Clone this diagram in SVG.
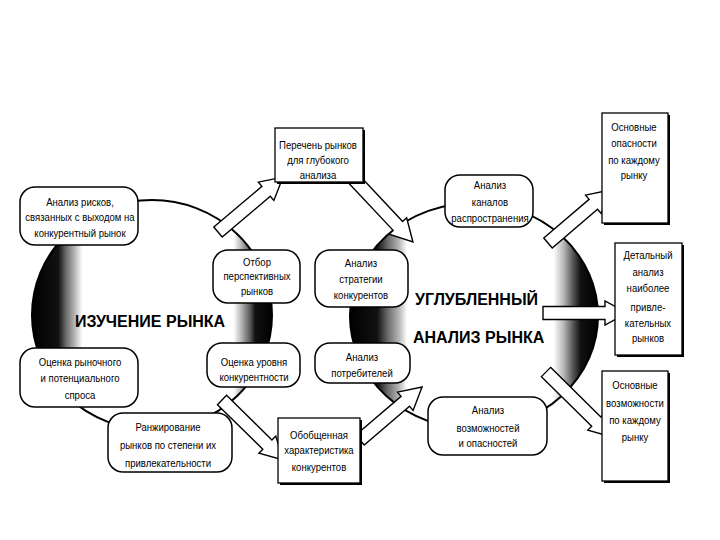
<svg xmlns="http://www.w3.org/2000/svg" width="720" height="540" viewBox="0 0 720 540">
<style>
.t{font-family:"Liberation Sans",Arial,sans-serif;font-size:11px;fill:#000;text-anchor:middle}
.big{font-family:"Liberation Sans",Arial,sans-serif;font-size:16px;font-weight:bold;fill:#000}
.rb{fill:#fff;stroke:#000;stroke-width:1.5}
.rc{fill:#fff;stroke:#000;stroke-width:1.3}
.sh{fill:#000}
.ar{fill:#fff;stroke:#000;stroke-width:1.4;stroke-linejoin:miter}
.sp{stroke:#000;stroke-width:2}
</style>
<defs>
<linearGradient id="gL" x1="0" y1="0" x2="1" y2="0">
<stop offset="0" stop-color="#000"/><stop offset="0.11" stop-color="#111"/><stop offset="0.14" stop-color="#666"/><stop offset="0.18" stop-color="#bbb"/><stop offset="0.21" stop-color="#fff"/><stop offset="0.84" stop-color="#fff"/><stop offset="0.87" stop-color="#bbb"/><stop offset="0.91" stop-color="#555"/><stop offset="0.93" stop-color="#111"/><stop offset="1" stop-color="#000"/>
</linearGradient>
<linearGradient id="gR" x1="0" y1="0" x2="1" y2="0">
<stop offset="0" stop-color="#000"/><stop offset="0.11" stop-color="#111"/><stop offset="0.15" stop-color="#666"/><stop offset="0.20" stop-color="#bbb"/><stop offset="0.23" stop-color="#fff"/><stop offset="0.82" stop-color="#fff"/><stop offset="0.86" stop-color="#bbb"/><stop offset="0.90" stop-color="#555"/><stop offset="0.93" stop-color="#111"/><stop offset="1" stop-color="#000"/>
</linearGradient>
</defs>
<rect width="720" height="540" fill="#fff"/>
<g id="spheres">
<ellipse id="sphere-left" class="sp" cx="152" cy="315" rx="120" ry="115" fill="url(#gL)"/>
<ellipse id="sphere-right" class="sp" cx="474" cy="316" rx="124" ry="113" fill="url(#gR)"/>
<text class="big" x="75" y="327">ИЗУЧЕНИЕ РЫНКА</text>
<text class="big" x="415" y="305">УГЛУБЛЕННЫЙ</text>
<text class="big" x="413" y="343">АНАЛИЗ РЫНКА</text>
</g>
<g id="connectors">
<polygon class="ar" transform="translate(218,232) rotate(-40.2)" points="0,-6.5 63,-6.5 63,-12 85,0 63,12 63,6.5 0,6.5"/>
<polygon class="ar" transform="translate(351,176) rotate(46.8)" points="0,-6.5 68.5,-6.5 68.5,-12 90.5,0 68.5,12 68.5,6.5 0,6.5"/>
<polygon class="ar" transform="translate(548,243) rotate(-40.5)" points="0,-6.5 59.6,-6.5 59.6,-12 81.6,0 59.6,12 59.6,6.5 0,6.5"/>
<polygon class="ar" transform="translate(543,313)" points="0,-6.5 62,-6.5 62,-12 84,0 62,12 62,6.5 0,6.5"/>
<polygon class="ar" transform="translate(546,372) rotate(44.6)" points="0,-6.5 70.6,-6.5 70.6,-12 92.6,0 70.6,12 70.6,6.5 0,6.5"/>
<polygon class="ar" transform="translate(360,440) rotate(-40.5)" points="0,-6.5 59.6,-6.5 59.6,-12 81.6,0 59.6,12 59.6,6.5 0,6.5"/>
<polygon class="ar" transform="translate(222,400) rotate(44.5)" points="0,-6.5 63.6,-6.5 63.6,-12 85.6,0 63.6,12 63.6,6.5 0,6.5"/>
</g>
<g id="n-riski">
<rect class="rb" x="20" y="187" width="118" height="58" rx="15"/>
<g transform="matrix(0.87 0 0 1 10.4 0)">
<text class="t" x="80" y="206">Анализ рисков,</text>
<text class="t" x="80" y="221">связанных с выходом на</text>
<text class="t" x="80" y="237">конкурентный рынок</text>
</g>
</g>
<g id="n-otbor">
<rect class="rb" x="213" y="250" width="87" height="53" rx="15"/>
<g transform="matrix(0.87 0 0 1 33.41 0)">
<text class="t" x="257" y="266">Отбор</text>
<text class="t" x="257" y="280">перспективных</text>
<text class="t" x="257" y="295">рынков</text>
</g>
</g>
<g id="n-strategii">
<rect class="rb" x="315" y="250" width="93" height="57" rx="15"/>
<g transform="matrix(0.87 0 0 1 46.93 0)">
<text class="t" x="361" y="267">Анализ</text>
<text class="t" x="361" y="283">стратегии</text>
<text class="t" x="361" y="299">конкурентов</text>
</g>
</g>
<g id="n-spros">
<rect class="rb" x="20" y="348" width="118" height="59" rx="15"/>
<g transform="matrix(0.87 0 0 1 10.4 0)">
<text class="t" x="80" y="366">Оценка рыночного</text>
<text class="t" x="80" y="382">и потенциального</text>
<text class="t" x="80" y="399">спроса</text>
</g>
</g>
<g id="n-ranzh">
<rect class="rb" x="108" y="413" width="124" height="59" rx="15"/>
<g transform="matrix(0.87 0 0 1 21.84 0)">
<text class="t" x="168" y="431">Ранжирование</text>
<text class="t" x="168" y="449">рынков по степени их</text>
<text class="t" x="168" y="467">привлекательности</text>
</g>
</g>
<g id="n-uroven">
<rect class="rb" x="207" y="343" width="93" height="44" rx="15"/>
<g transform="matrix(0.87 0 0 1 33.02 0)">
<text class="t" x="254" y="366">Оценка уровня</text>
<text class="t" x="254" y="381">конкурентности</text>
</g>
</g>
<g id="n-potreb">
<rect class="rb" x="315" y="343" width="95" height="40" rx="15"/>
<g transform="matrix(0.87 0 0 1 47.06 0)">
<text class="t" x="362" y="361">Анализ</text>
<text class="t" x="362" y="377">потребителей</text>
</g>
</g>
<g id="n-kanaly">
<rect class="rb" x="445" y="175" width="88" height="52" rx="15"/>
<g transform="matrix(0.87 0 0 1 63.7 0)">
<text class="t" x="490" y="189">Анализ</text>
<text class="t" x="490" y="206">каналов</text>
<text class="t" x="490" y="222">распространения</text>
</g>
</g>
<g id="n-vozm">
<rect class="rb" x="428" y="397" width="119" height="58" rx="15"/>
<g transform="matrix(0.87 0 0 1 63.44 0)">
<text class="t" x="488" y="414">Анализ</text>
<text class="t" x="488" y="432">возможностей</text>
<text class="t" x="488" y="447">и опасностей</text>
</g>
</g>
<g id="n-perechen">
<rect class="sh" x="277" y="130" width="88" height="54"/>
<rect class="rc" x="275" y="128" width="88" height="54"/>
<g transform="matrix(0.87 0 0 1 41.34 0)">
<text class="t" x="318" y="149">Перечень рынков</text>
<text class="t" x="318" y="164">для глубокого</text>
<text class="t" x="318" y="179">анализа</text>
</g>
</g>
<g id="n-opasnosti">
<rect class="sh" x="604" y="115" width="66" height="110"/>
<rect class="rc" x="602" y="113" width="66" height="110"/>
<g transform="matrix(0.87 0 0 1 82.42 0)">
<text class="t" x="634" y="131">Основные</text>
<text class="t" x="634" y="147">опасности</text>
<text class="t" x="634" y="164">по каждому</text>
<text class="t" x="634" y="179">рынку</text>
</g>
</g>
<g id="n-detal">
<rect class="sh" x="617" y="245" width="67" height="112"/>
<rect class="rc" x="615" y="243" width="67" height="112"/>
<g transform="matrix(0.87 0 0 1 84.24 0)">
<text class="t" x="648" y="259">Детальный</text>
<text class="t" x="648" y="276">анализ</text>
<text class="t" x="648" y="292">наиболее</text>
<text class="t" x="648" y="311">привле-</text>
<text class="t" x="648" y="327">кательных</text>
<text class="t" x="648" y="342">рынков</text>
</g>
</g>
<g id="n-vozmozhnosti">
<rect class="sh" x="604" y="373" width="66" height="110"/>
<rect class="rc" x="602" y="371" width="66" height="110"/>
<g transform="matrix(0.87 0 0 1 82.55 0)">
<text class="t" x="635" y="389">Основные</text>
<text class="t" x="635" y="407">возможности</text>
<text class="t" x="635" y="424">по каждому</text>
<text class="t" x="635" y="441">рынку</text>
</g>
</g>
<g id="n-obobsh">
<rect class="sh" x="280" y="420" width="82" height="65"/>
<rect class="rc" x="278" y="418" width="82" height="65"/>
<g transform="matrix(0.87 0 0 1 41.47 0)">
<text class="t" x="319" y="439">Обобщенная</text>
<text class="t" x="319" y="454">характеристика</text>
<text class="t" x="319" y="471">конкурентов</text>
</g>
</g>
</svg>
